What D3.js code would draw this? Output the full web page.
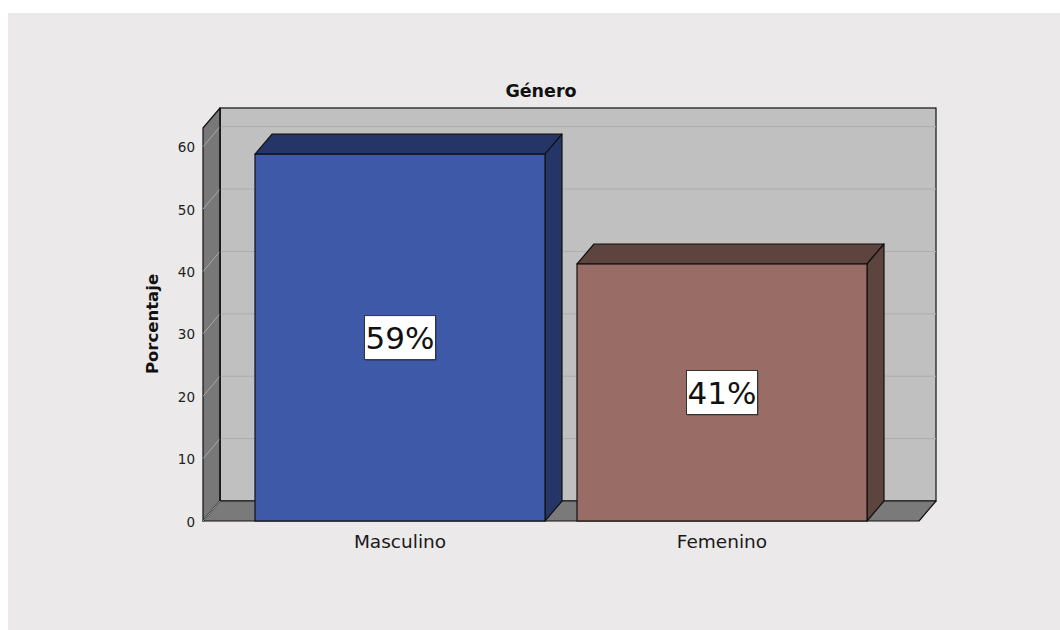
<!DOCTYPE html>
<html><head><meta charset="utf-8">
<script src="https://cdn.jsdelivr.net/npm/d3@7"></script>
<style>html,body{margin:0;padding:0;background:#fff;}svg{display:block;}</style>
</head><body>
<svg id="chart" width="1060" height="630"></svg>
<script>
const categories = ["Masculino", "Femenino"];
const values = [58.8, 41.2];
const valueLabels = ["59%", "41%"];
const yTicks = [0, 10, 20, 30, 40, 50, 60];
const frontColors = ["#3E59A7", "#996D65"];
const darkColors = ["#253567", "#5D443E"];
const title = "Género";
const yTitle = "Porcentaje";

const svg = d3.select("#chart");
const DX = 17, DY = -20;
const x0 = 203, x1 = 919, yBase = 521, yTop = 128;

svg.append("rect").attr("x", 8).attr("y", 13).attr("width", 1052).attr("height", 617).attr("fill", "#EBE9E9");

const y = d3.scaleLinear().domain([0, 63]).range([yBase, yTop]);
const x = d3.scaleBand().domain(categories).range([x0, x1]).paddingInner(0.0994).paddingOuter(0.1615);

const g = svg.append("g");
const pts = a => a.map(p => p.join(",")).join(" ");

// back wall
g.append("rect").attr("x", x0 + DX).attr("y", yTop + DY).attr("width", x1 - x0).attr("height", yBase - yTop)
  .attr("fill", "#C0C0C0").attr("stroke", "#111").attr("stroke-width", 1.2);
// back gridlines
g.selectAll(".bg").data(yTicks.filter(d => d > 0)).join("line")
  .attr("x1", x0 + DX).attr("x2", x1 + DX)
  .attr("y1", d => y(d) + DY).attr("y2", d => y(d) + DY)
  .attr("stroke", "#ADADAD").attr("stroke-width", 1);
// left wall
g.append("polygon").attr("points", pts([[x0, yTop], [x0 + DX, yTop + DY], [x0 + DX, yBase + DY], [x0, yBase]]))
  .attr("fill", "#787878").attr("stroke", "#111").attr("stroke-width", 1.2).attr("stroke-linejoin", "round");
// floor
g.append("polygon").attr("points", pts([[x0, yBase], [x0 + DX, yBase + DY], [x1 + DX, yBase + DY], [x1, yBase]]))
  .attr("fill", "#7A7A7A").attr("stroke", "#111").attr("stroke-width", 1.2).attr("stroke-linejoin", "round");
// diagonal grid on left wall
g.selectAll(".lg").data(yTicks).join("line")
  .attr("x1", x0).attr("x2", x0 + DX)
  .attr("y1", d => y(d)).attr("y2", d => y(d) + DY)
  .attr("stroke", "#A8A8A8").attr("stroke-width", 1);
// re-stroke left wall back edge
g.append("line").attr("x1", x0 + DX).attr("x2", x0 + DX).attr("y1", yTop + DY).attr("y2", yBase + DY)
  .attr("stroke", "#111").attr("stroke-width", 1.2);

// tick labels
g.selectAll(".tl").data(yTicks).join("text")
  .attr("x", 195).attr("y", d => y(d) + 5.5)
  .attr("text-anchor", "end").attr("font-family", "DejaVu Sans, sans-serif").attr("font-size", 13.5)
  .attr("fill", "#222").text(d => d);

// bars
const bars = g.selectAll(".bar").data(categories.map((c, i) => ({c, v: values[i], i}))).join("g");
bars.append("polygon").attr("points", d => {
  const l = x(d.c), r = l + x.bandwidth(), t = y(d.v);
  return pts([[l, t], [l + DX, t + DY], [r + DX, t + DY], [r, t]]);
}).attr("fill", d => darkColors[d.i]).attr("stroke", "#111").attr("stroke-width", 1.2).attr("stroke-linejoin", "round");
bars.append("polygon").attr("points", d => {
  const r = x(d.c) + x.bandwidth(), t = y(d.v);
  return pts([[r, t], [r + DX, t + DY], [r + DX, yBase + DY], [r, yBase]]);
}).attr("fill", d => darkColors[d.i]).attr("stroke", "#111").attr("stroke-width", 1.2).attr("stroke-linejoin", "round");
bars.append("rect").attr("x", d => x(d.c)).attr("y", d => y(d.v))
  .attr("width", x.bandwidth()).attr("height", d => yBase - y(d.v))
  .attr("fill", d => frontColors[d.i]).attr("stroke", "#111").attr("stroke-width", 1.2);

// value labels
bars.each(function(d) {
  const cx = x(d.c) + x.bandwidth() / 2;
  const cy = (y(d.v) + yBase) / 2;
  const sel = d3.select(this);
  sel.append("rect").attr("x", cx - 35.5 + 1).attr("y", cy - 22 + 1).attr("width", 71).attr("height", 44)
    .attr("fill", "rgba(0,0,0,0.35)");
  sel.append("rect").attr("x", cx - 35.5).attr("y", cy - 22).attr("width", 71).attr("height", 44)
    .attr("fill", "#fff").attr("stroke", "#333").attr("stroke-width", 1);
  sel.append("text").attr("x", cx).attr("y", cy + 11.5)
    .attr("text-anchor", "middle").attr("font-family", "DejaVu Sans, sans-serif").attr("font-size", 31)
    .attr("fill", "#111").text(valueLabels[d.i]);
});

// x labels
g.selectAll(".xl").data(categories).join("text")
  .attr("x", d => x(d) + x.bandwidth() / 2).attr("y", 548)
  .attr("text-anchor", "middle").attr("font-family", "DejaVu Sans, sans-serif").attr("font-size", 18.5)
  .attr("fill", "#1a1a1a").text(d => d);

// title
svg.append("text").attr("x", 541).attr("y", 97).attr("text-anchor", "middle")
  .attr("font-family", "DejaVu Sans, sans-serif").attr("font-weight", "bold").attr("font-size", 17.5)
  .attr("fill", "#111").text(title);
// y title
svg.append("text").attr("transform", "translate(158,324) rotate(-90)").attr("text-anchor", "middle")
  .attr("font-family", "DejaVu Sans, sans-serif").attr("font-weight", "bold").attr("font-size", 16.5)
  .attr("fill", "#111").text(yTitle);
</script>
</body></html>
